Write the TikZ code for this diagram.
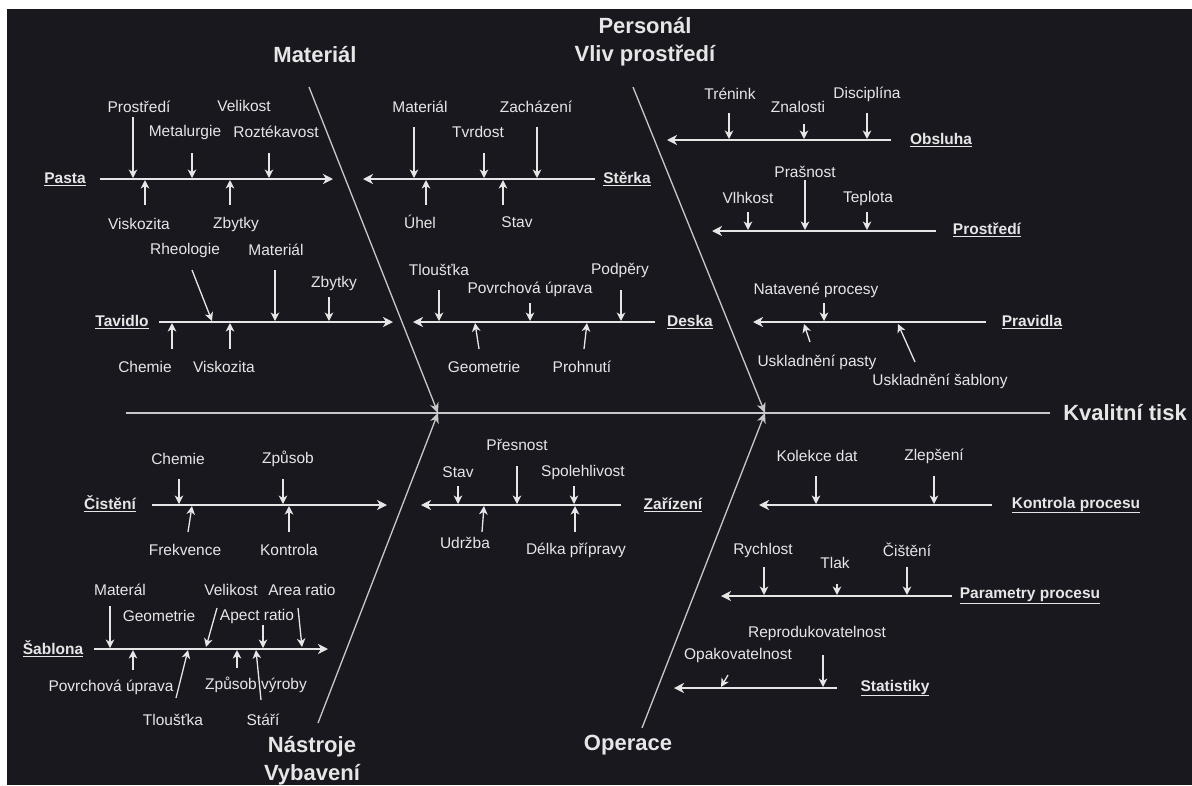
\documentclass[tikz,border=0pt]{standalone}
\usepackage{fontspec}
\setmainfont{Liberation Sans}
\usetikzlibrary{arrows.meta}
\definecolor{bg}{RGB}{26,24,31}
\definecolor{fg}{RGB}{230,230,230}
\definecolor{gl}{RGB}{200,200,200}
\tikzset{
  lbl/.style={text=fg, font=\fontsize{15.5}{18}\selectfont, inner sep=0pt},
  cat/.style={text=fg, font=\fontsize{15.5}{18}\selectfont\bfseries, inner sep=0pt},
  ttl/.style={text=fg, font=\fontsize{22}{28}\selectfont\bfseries, align=center, inner sep=0pt},
  sbone/.style={draw=fg, line width=1.6pt, -{Stealth[length=10pt,width=10pt,inset=3pt]}},
  cz/.style={draw=fg, line width=1.3pt, -{Stealth[length=8.5pt,width=8.5pt,inset=2.5pt]}},
  mainb/.style={draw=gl, line width=1.3pt, -{Stealth[length=10pt,width=9pt,inset=3pt]}},
  spine/.style={draw=gl, line width=1.6pt}
}
\newcommand\causearr[3]{\coordinate (#1s) at (#2); \coordinate (#1e) at (#3); \draw[cz] (#1s) -- (#1e);}
\newcommand\subbone[3]{\coordinate (#1s) at (#2); \coordinate (#1e) at (#3); \draw[sbone] (#1s) -- (#1e);}
\begin{document}
\begin{tikzpicture}[x=1pt,y=-1pt]
\useasboundingbox (0,0) rectangle (1192,785);
\fill[white] (0,0) rectangle (1192,785);
\fill[bg] (7,9) rectangle (1192,785);

% spine and main bones
\coordinate (sp0) at (126,413);
\node[ttl] (kv) at (1125,413) {Kvalitní tisk};
\draw[spine] (sp0) -- ([xshift=-13pt]kv.west);
\coordinate (hub1) at (438,413);
\coordinate (hub2) at (765,413);
\node[ttl] (tmat) at (315,55) {Materiál};
\node[ttl] (tper) at (645,42) {Personál\\Vliv prostředí};
\node[ttl] (tnas) at (312,761) {Nástroje\\Vybavení};
\node[ttl] (tope) at (628,745) {Operace};
\coordinate (b1) at (309,87);
\coordinate (b2) at (633,87);
\coordinate (b3) at (318,723);
\coordinate (b4) at (642,728);
\draw[mainb] (b1) -- (hub1);
\draw[mainb] (b2) -- (hub2);
\draw[mainb] (b3) -- (hub1);
\draw[mainb] (b4) -- (hub2);

% Pasta
\node[cat] (pasta) at (65,179) {\underline{Pasta}};
\subbone{pa}{100,179}{333,179}
\node[lbl] (pa1) at (139,107) {Prostředí};
\node[lbl] (pa2) at (244,106) {Velikost};
\node[lbl] (pa3) at (185,132) {Metalurgie};
\node[lbl] (pa4) at (276,132) {Roztékavost};
\node[lbl] (pa5) at (139,224) {Viskozita};
\node[lbl] (pa6) at (236,224) {Zbytky};
\causearr{pa1a}{133,117}{133,178}
\causearr{pa3a}{192,153}{192,178}
\causearr{pa4a}{269,153}{269,178}
\causearr{pa5a}{145,205}{145,180}
\causearr{pa6a}{230,205}{230,180}

% Sterka
\node[cat] (ster) at (627,179) {\underline{Stěrka}};
\subbone{st}{595,179}{363,179}
\node[lbl] (st1) at (420,107) {Materiál};
\node[lbl] (st2) at (478,132) {Tvrdost};
\node[lbl] (st3) at (536,107) {Zacházení};
\node[lbl] (st4) at (420,222) {Úhel};
\node[lbl] (st5) at (517,222) {Stav};
\causearr{st1a}{414,127}{414,178}
\causearr{st2a}{484,153}{484,178}
\causearr{st3a}{537,127}{537,178}
\causearr{st4a}{426,205}{426,180}
\causearr{st5a}{503,205}{503,180}

% Obsluha
\node[cat] (obs) at (941,140) {\underline{Obsluha}};
\subbone{ob}{891,140}{667,140}
\node[lbl] (ob1) at (730,94) {Trénink};
\node[lbl] (ob2) at (798,107) {Znalosti};
\node[lbl] (ob3) at (867,94) {Disciplína};
\causearr{ob1a}{729,113}{729,139}
\causearr{ob2a}{804,124}{804,139}
\causearr{ob3a}{867,113}{867,139}

% Prostredi
\node[cat] (pro) at (987,230) {\underline{Prostředí}};
\subbone{pr}{936,231}{712,231}
\node[lbl] (pr1) at (805,172) {Prašnost};
\node[lbl] (pr2) at (748,198) {Vlhkost};
\node[lbl] (pr3) at (868,198) {Teplota};
\causearr{pr1a}{805,180}{805,230}
\causearr{pr2a}{748,212}{748,230}
\causearr{pr3a}{867,212}{867,230}

% Pravidla
\node[cat] (prv) at (1032,322) {\underline{Pravidla}};
\subbone{pv}{986,322}{753,322}
\node[lbl] (pv1) at (816,290) {Natavené procesy};
\node[lbl] (pv2) at (817,362) {Uskladnění pasty};
\node[lbl] (pv3) at (940,381) {Uskladnění šablony};
\causearr{pv1a}{824,303}{824,321}
\causearr{pv2a}{810,342}{804,324}
\causearr{pv3a}{915,362}{898,324}

% Tavidlo
\node[cat] (tav) at (122,322) {\underline{Tavidlo}};
\subbone{ta}{159,322}{393,322}
\node[lbl] (ta1) at (185,250) {Rheologie};
\node[lbl] (ta2) at (276,250) {Materiál};
\node[lbl] (ta3) at (334,283) {Zbytky};
\node[lbl] (ta4) at (145,367) {Chemie};
\node[lbl] (ta5) at (224,367) {Viskozita};
\causearr{ta1a}{192,270}{212,321}
\causearr{ta2a}{275,270}{275,321}
\causearr{ta3a}{329,297}{329,321}
\causearr{ta4a}{172,349}{172,323}
\causearr{ta5a}{230,349}{230,323}

% Deska
\node[cat] (des) at (690,322) {\underline{Deska}};
\subbone{de}{655,322}{413,322}
\node[lbl] (de1) at (439,270) {Tloušťka};
\node[lbl] (de2) at (530,289) {Povrchová úprava};
\node[lbl] (de3) at (620,270) {Podpěry};
\node[lbl] (de4) at (484,367) {Geometrie};
\node[lbl] (de5) at (582,367) {Prohnutí};
\causearr{de1a}{439,290}{439,321}
\causearr{de2a}{530,303}{530,321}
\causearr{de3a}{621,290}{621,321}
\causearr{de4a}{479,349}{475,323}
\causearr{de5a}{584,349}{587,323}

% Cisteni
\node[cat] (cis) at (110,504) {\underline{Čistění}};
\subbone{ci}{152,505}{387,505}
\node[lbl] (ci1) at (178,459) {Chemie};
\node[lbl] (ci2) at (288,459) {Způsob};
\node[lbl] (ci3) at (185,550) {Frekvence};
\node[lbl] (ci4) at (289,550) {Kontrola};
\causearr{ci1a}{179,479}{179,504}
\causearr{ci2a}{283,479}{283,504}
\causearr{ci3a}{188,532}{192,506}
\causearr{ci4a}{289,532}{289,506}

% Zarizeni
\node[cat] (zar) at (673,505) {\underline{Zařízení}};
\subbone{za}{621,505}{421,505}
\node[lbl] (za1) at (517,445) {Přesnost};
\node[lbl] (za2) at (458,472) {Stav};
\node[lbl] (za3) at (583,472) {Spolehlivost};
\node[lbl] (za4) at (465,543) {Udržba};
\node[lbl] (za5) at (576,550) {Délka přípravy};
\causearr{za1a}{517,466}{517,504}
\causearr{za2a}{458,486}{458,504}
\causearr{za3a}{574,486}{574,504}
\causearr{za4a}{482,532}{484,506}
\causearr{za5a}{575,532}{575,506}

% Kontrola procesu
\node[cat] (kon) at (1076,505) {\underline{Kontrola procesu}};
\subbone{ko}{992,505}{759,505}
\node[lbl] (ko1) at (817,456) {Kolekce dat};
\node[lbl] (ko2) at (934,456) {Zlepšení};
\causearr{ko1a}{816,476}{816,504}
\causearr{ko2a}{934,476}{934,504}

% Parametry procesu
\node[cat] (par) at (1030,596) {\underline{Parametry procesu}};
\subbone{pp}{952,596}{721,596}
\node[lbl] (pp1) at (763,550) {Rychlost};
\node[lbl] (pp2) at (835,563) {Tlak};
\node[lbl] (pp3) at (907,550) {Čištění};
\causearr{pp1a}{764,567}{764,595}
\causearr{pp2a}{837,584}{837,595}
\causearr{pp3a}{907,567}{907,595}

% Statistiky
\node[cat] (sta) at (895,688) {\underline{Statistiky}};
\subbone{sa}{837,688}{674,688}
\node[lbl] (sa1) at (817,633) {Reprodukovatelnost};
\node[lbl] (sa2) at (738,655) {Opakovatelnost};
\causearr{sa1a}{823,655}{823,687}
\causearr{sa2a}{728,675}{721,687}

% Sablona
\node[cat] (sab) at (53,649) {\underline{Šablona}};
\subbone{sbl}{94,649}{328,649}
\node[lbl] (sb1) at (120,590) {Materál};
\node[lbl] (sb2) at (159,616) {Geometrie};
\node[lbl] (sb3) at (231,590) {Velikost};
\node[lbl] (sb4) at (257,616) {Apect ratio};
\node[lbl] (sb5) at (302,590) {Area ratio};
\node[lbl] (sb6) at (111,687) {Povrchová úprava};
\node[lbl] (sb7) at (256,685) {Způsob výroby};
\node[lbl] (sb8) at (173,720) {Tloušťka};
\node[lbl] (sb9) at (263,720) {Stáří};
\causearr{sb1a}{110,606}{110,648}
\causearr{sb3a}{217,608}{206,647}
\causearr{sb4a}{263,625}{263,648}
\causearr{sb5a}{298,608}{302,647}
\causearr{sb6a}{133,670}{133,650}
\causearr{sb8a}{176,698}{188,650}
\causearr{sb7a}{237,668}{237,650}
\causearr{sb9a}{261,700}{256,650}
\end{tikzpicture}
\end{document}
